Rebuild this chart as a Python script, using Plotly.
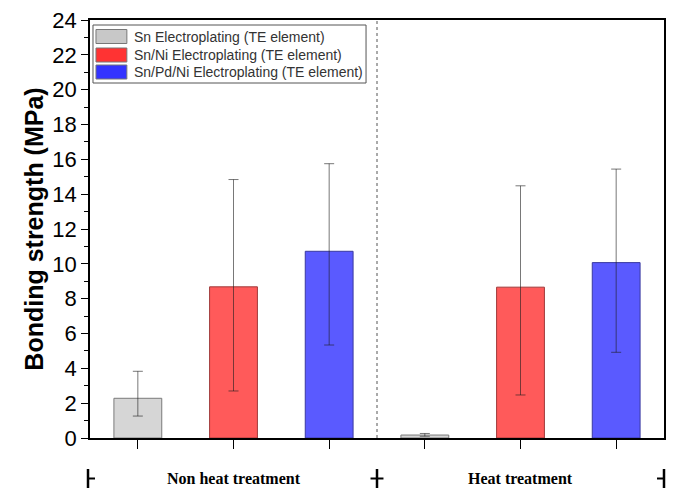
import plotly.graph_objects as go

# ---------------- data ----------------
treatments = ["Non heat treatment", "Heat treatment"]
series_names = [
    "Sn Electroplating (TE element)",
    "Sn/Ni Electroplating (TE element)",
    "Sn/Pd/Ni Electroplating (TE element)",
]
short_names = ["Sn", "Sn/Ni", "Sn/Pd/Ni"]

sn_values = [2.28, 0.17]
sn_err_plus = [1.55, 0.09]
sn_err_minus = [1.02, 0.07]

snni_values = [8.68, 8.66]
snni_err_plus = [6.16, 5.82]
snni_err_minus = [5.98, 6.19]

snpdni_values = [10.72, 10.07]
snpdni_err_plus = [5.03, 5.37]
snpdni_err_minus = [5.38, 5.15]

y_ticks = list(range(0, 25, 2))

bar_colors = ["#d6d6d6", "#ff5a5a", "#5a5aff"]
legend_colors = ["#c8c8c8", "#ff3333", "#3333ff"]
bar_lines = ["#7a7a7a", "#a03a3a", "#3a3aa0"]

# ---------------- categories ----------------
cats = [f"{t} | {s}" for t in treatments for s in short_names]

values = [sn_values, snni_values, snpdni_values]
eplus = [sn_err_plus, snni_err_plus, snpdni_err_plus]
eminus = [sn_err_minus, snni_err_minus, snpdni_err_minus]

fig = go.Figure()
for i, name in enumerate(series_names):
    xs = [f"{t} | {short_names[i]}" for t in treatments]
    fig.add_trace(go.Bar(
        x=xs, y=values[i], name=name, width=0.5,
        marker=dict(color=bar_colors[i], line=dict(color=bar_lines[i], width=1)),
        error_y=dict(type="data", symmetric=False, array=eplus[i], arrayminus=eminus[i],
                     color="rgba(30,30,30,0.6)", thickness=1, width=5),
        showlegend=False,
    ))

# plot-area pixel geometry for decorations
L, R, T, B = 90, 7, 20, 50
W, H = 673, 488
pw, ph = W - L - R, H - T - B


def px_x(px):
    return (px - L) / pw


def px_y(py):
    return (H - B - py) / ph


shapes = []
annotations = []

# dashed separator between groups
shapes.append(dict(type="line", xref="x", yref="paper", x0=2.5, x1=2.5, y0=0, y1=1,
                   line=dict(color="#555", width=1, dash="dot")))

# custom legend
shapes.append(dict(type="rect", xref="paper", yref="paper",
                   x0=px_x(93), x1=px_x(367), y0=px_y(83), y1=px_y(25),
                   line=dict(color="#555", width=1), fillcolor="white", layer="above"))
row_centers = [36.5, 55, 72]
for i, name in enumerate(series_names):
    yc = row_centers[i]
    shapes.append(dict(type="rect", xref="paper", yref="paper",
                       x0=px_x(96), x1=px_x(127), y0=px_y(yc + 7), y1=px_y(yc - 7),
                       line=dict(color="#777", width=1), fillcolor=legend_colors[i], layer="above"))
    annotations.append(dict(text=name, xref="paper", yref="paper", x=px_x(132), y=px_y(yc),
                            xanchor="left", yanchor="middle", showarrow=False,
                            font=dict(family="Liberation Sans, Arial", size=14, color="#333")))

# group axis marks below
gy = px_y(478.5)
for xp, left_stub, right_stub in [(-2 / pw, 0, 7), (0.5, 6.5, 6.5), (1, 7, 0)]:
    shapes.append(dict(type="line", xref="paper", yref="paper", x0=xp, x1=xp,
                       y0=px_y(469), y1=px_y(492), line=dict(color="black", width=2.5)))
    shapes.append(dict(type="line", xref="paper", yref="paper",
                       x0=xp - left_stub / pw, x1=xp + right_stub / pw, y0=gy, y1=gy,
                       line=dict(color="black", width=2)))

for gi, t in enumerate(treatments):
    annotations.append(dict(text=f"<b>{t}</b>", xref="x", yref="paper", x=gi * 3 + 1, y=gy,
                            xanchor="center", yanchor="middle", showarrow=False,
                            font=dict(family="Liberation Serif, Times New Roman", size=16, color="black")))

fig.update_layout(
    width=W, height=H,
    margin=dict(l=L, r=R, t=T, b=B),
    paper_bgcolor="white", plot_bgcolor="white",
    barmode="overlay",
    shapes=shapes, annotations=annotations,
    font=dict(family="Liberation Sans, Arial", color="black"),
)
fig.update_xaxes(
    type="category", categoryorder="array", categoryarray=cats,
    range=[-0.5, 5.5], showticklabels=False,
    ticks="outside", ticklen=9, tickwidth=1.2, tickcolor="black",
    showline=True, linecolor="black", linewidth=1.5, mirror=True, showgrid=False,
)
fig.update_yaxes(
    range=[0, 24], tickvals=y_ticks, ticks="outside", ticklen=7, tickwidth=1.2, tickcolor="black",
    minor=dict(dtick=1, ticks="outside", ticklen=4, tickcolor="black", tickwidth=1),
    showline=True, linecolor="black", linewidth=1.5, mirror=True, showgrid=False, zeroline=False,
    tickfont=dict(size=22, family="Liberation Sans, Arial", color="black"),
    title=dict(text="<b>Bonding strength (MPa)</b>", font=dict(size=25, family="Liberation Sans, Arial"),
               standoff=2),
)

fig.write_html("out.html")
